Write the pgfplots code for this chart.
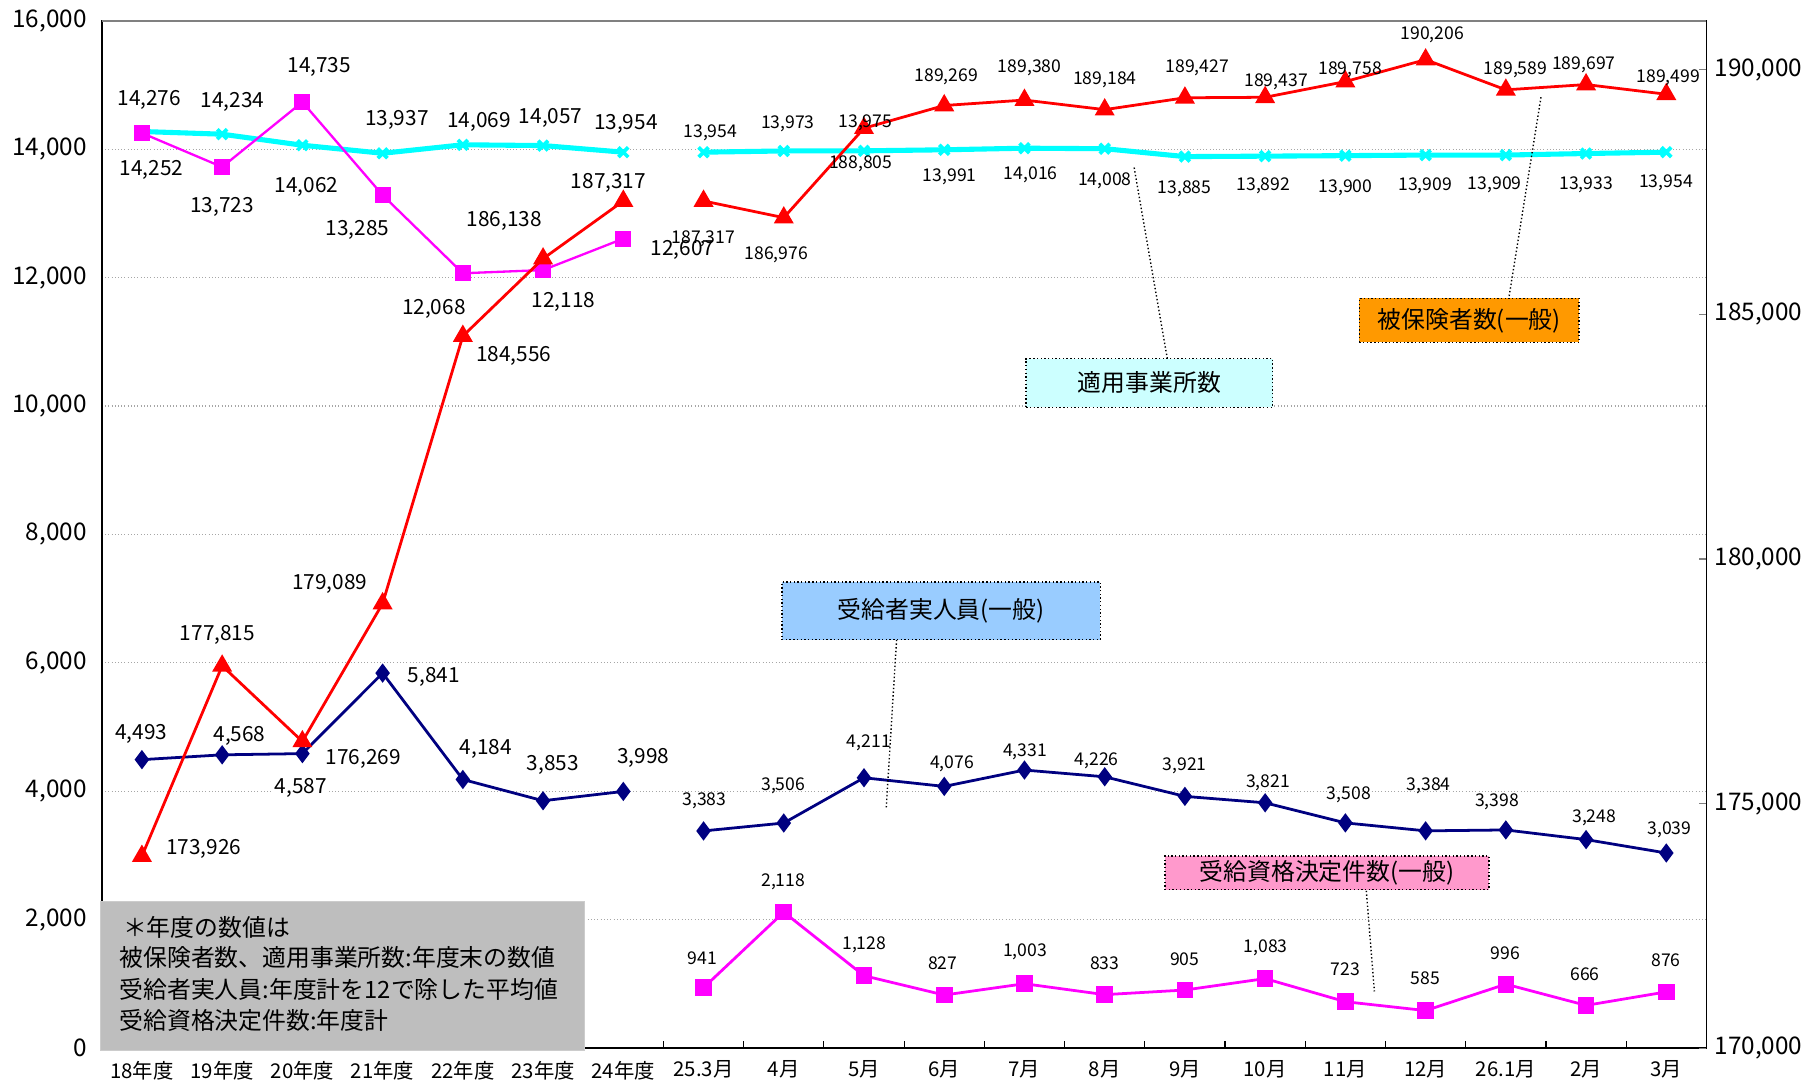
\documentclass[border=0pt]{standalone}
\usepackage{fontspec}
\setmainfont{Noto Sans CJK JP}
\usepackage{pgfplots}
\pgfplotsset{compat=1.18}
\definecolor{cyL}{HTML}{00FFFF}
\definecolor{mgL}{HTML}{FF00FF}
\definecolor{nvL}{HTML}{000080}
\definecolor{rdL}{HTML}{FF0000}
\definecolor{orB}{HTML}{FF9900}
\definecolor{cyB}{HTML}{CCFFFF}
\definecolor{blB}{HTML}{99CCFF}
\definecolor{pkB}{HTML}{FF99CC}
\definecolor{grB}{HTML}{BEBEBE}
\newcommand\labA{\fontsize{9}{10}\selectfont}
\newcommand\labB{\fontsize{7.6}{9}\selectfont}
\newcommand\boxf{\fontsize{10.3}{12}\selectfont}
\begin{document}
\begin{tikzpicture}
\useasboundingbox (-44pt,-15pt) rectangle (740pt,453pt);
\begin{axis}[
  at={(0,0)}, anchor=south west,
  scale only axis, width=693.5pt, height=444pt,
  xmin=-0.5, xmax=19.5, ymin=0, ymax=16000,
  xtick={0,...,19},
  xticklabels={18年度,19年度,20年度,21年度,22年度,23年度,24年度,25.3月,4月,5月,6月,7月,8月,9月,10月,11月,12月,26.1月,2月,3月},
  minor xtick={0.5,1.5,...,18.5},
  xtick pos=bottom, tick align=inside,
  major x tick style={draw=none},
  minor tick length=3pt,
  minor x tick style={black, line width=0.5pt},
  x tick label style={font=\fontsize{8.8}{10}\selectfont, yshift=-2pt},
  ytick={0,2000,...,16000},
  ytick pos=left, major y tick style={draw=none},
  ymajorgrids, grid style={densely dotted, gray!70, line width=0.5pt},
  scaled y ticks=false,
  y tick label style={font=\fontsize{10.5}{12}\selectfont, xshift=-3pt},
  /pgf/number format/assume math mode=true,
  yticklabel style={/pgf/number format/fixed, /pgf/number format/1000 sep={,}},
  axis line style={black, line width=0.8pt},
]
% 適用事業所数
\addplot[cyL, line width=2.2pt, mark=x, mark size=3pt, mark options={solid, line width=1.6pt}]
  coordinates {(0,14276)(1,14234)(2,14062)(3,13937)(4,14069)(5,14057)(6,13954)};
\addplot[cyL, line width=2.2pt, mark=x, mark size=3pt, mark options={solid, line width=1.6pt}]
  coordinates {(7,13954)(8,13973)(9,13975)(10,13991)(11,14016)(12,14008)(13,13885)(14,13892)(15,13900)(16,13909)(17,13909)(18,13933)(19,13954)};
% 受給資格決定件数
\addplot[mgL, line width=1pt, mark=square*, mark size=3pt, mark options={solid, fill=mgL}]
  coordinates {(0,14252)(1,13723)(2,14735)(3,13285)(4,12068)(5,12118)(6,12607)};
\addplot[mgL, line width=1.2pt, mark=square*, mark size=3pt, mark options={solid, fill=mgL}]
  coordinates {(7,941)(8,2118)(9,1128)(10,827)(11,1003)(12,833)(13,905)(14,1083)(15,723)(16,585)(17,996)(18,666)(19,876)};
% 受給者実人員
\addplot[nvL, line width=1.2pt, mark=diamond*, mark size=3.2pt, mark options={solid, fill=nvL}]
  coordinates {(0,4493)(1,4568)(2,4587)(3,5841)(4,4184)(5,3853)(6,3998)};
\addplot[nvL, line width=1.2pt, mark=diamond*, mark size=3.2pt, mark options={solid, fill=nvL}]
  coordinates {(7,3383)(8,3506)(9,4211)(10,4076)(11,4331)(12,4226)(13,3921)(14,3821)(15,3508)(16,3384)(17,3398)(18,3248)(19,3039)};
\end{axis}
\begin{axis}[
  at={(0,0)}, anchor=south west,
  scale only axis, width=693.5pt, height=444pt,
  xmin=-0.5, xmax=19.5, ymin=170000, ymax=191000,
  axis x line=none, axis y line*=right,
  ytick={170000,175000,...,190000},
  tick align=inside, major tick length=3pt,
  major y tick style={gray, line width=0.5pt},
  scaled y ticks=false,
  y tick label style={font=\fontsize{10.5}{12}\selectfont},
  /pgf/number format/assume math mode=true,
  yticklabel style={/pgf/number format/fixed, /pgf/number format/1000 sep={,}},
  axis line style={black, line width=0.8pt},
]
% 被保険者数
\addplot[rdL, line width=1.2pt, mark=triangle*, mark size=3.8pt, mark options={solid, fill=rdL}]
  coordinates {(0,173926)(1,177815)(2,176269)(3,179089)(4,184556)(5,186138)(6,187317)};
\addplot[rdL, line width=1.2pt, mark=triangle*, mark size=3.8pt, mark options={solid, fill=rdL}]
  coordinates {(7,187317)(8,186976)(9,188805)(10,189269)(11,189380)(12,189184)(13,189427)(14,189437)(15,189758)(16,190206)(17,189589)(18,189697)(19,189499)};
\end{axis}
\draw[gray, line width=1pt] (0,444pt) -- (693.5pt,444pt);
\begin{scope}[x=0.5pt, y=-0.5pt, shift={(-44pt,453pt)}]
  % annual labels
  \foreach \px/\py/\t in {129/86/{14,276},201/88/{14,234},265/162/{14,062},343/104/{13,937},414/105/{14,069},476/102/{14,057},541/107/{13,954},
    131/147/{14,252},192/179/{13,723},276/58/{14,735},309/199/{13,285},375/267/{12,068},487/261/{12,118},590/216/{12,607},
    176/734/{173,926},188/549/{177,815},314/656/{176,269},285/505/{179,089},444/308/{184,556},436/191/{186,138},526/158/{187,317},
    122/634/{4,493},207/636/{4,568},375/585/{5,841},420/647/{4,184},478/661/{3,853},556/655/{3,998}}
    {\node[font=\labA, inner sep=0.5pt] at (\px,\py) {\t};}
  \node[font=\labA, fill=white, inner sep=1pt] at (260,681) {4,587};
  % monthly labels
  \foreach \px/\py/\t in {608/206/{187,317},671/220/{186,976},744/142/{188,805},818/66/{189,269},890/59/{189,380},955/69/{189,184},1035/59/{189,427},1103/71/{189,437},1167/60/{189,758},1238/30/{190,206},1310/60/{189,589},1369/56/{189,697},1442/67/{189,499},
    614/115/{13,954},681/107/{13,973},748/106/{13,975},821/153/{13,991},891/151/{14,016},955/156/{14,008},1024/163/{13,885},1092/161/{13,892},1163/162/{13,900},1232/161/{13,909},1292/160/{13,909},1371/160/{13,933},1440/158/{13,954},
    609/692/{3,383},677/679/{3,506},751/642/{4,211},823/660/{4,076},886/650/{4,331},948/658/{4,226},1024/662/{3,921},1096/677/{3,821},1166/687/{3,508},1235/679/{3,384},1294/693/{3,398},1378/707/{3,248},1443/717/{3,039},
    607/828/{941},677/762/{2,118},747/817/{1,128},815/833/{827},886/823/{1,003},955/833/{833},1024/829/{905},1094/819/{1,083},1163/838/{723},1232/846/{585},1301/824/{996},1370/842/{666},1440/830/{876}}
    {\node[font=\labB, inner sep=0.5pt] at (\px,\py) {\t};}
  % leader lines
  \draw[densely dotted, line width=0.6pt] (1304,259) -- (1332,84);
  \draw[densely dotted, line width=0.6pt] (1009,310) -- (980,143);
  \draw[densely dotted, line width=0.6pt] (775,553) -- (766,699);
  \draw[densely dotted, line width=0.6pt] (1181,770) -- (1188,857);
  % callouts
  \node[fill=orB, draw=black, densely dotted, line width=0.6pt, minimum width=95pt, minimum height=19pt, inner sep=0pt, font=\boxf] at (1270,277) {被保険者数(一般)};
  \node[fill=cyB, draw=black, densely dotted, line width=0.6pt, minimum width=106.5pt, minimum height=21pt, inner sep=0pt, font=\boxf] at (993.5,331) {適用事業所数};
  \node[fill=blB, draw=black, densely dotted, line width=0.6pt, minimum width=137.5pt, minimum height=25pt, inner sep=0pt, font=\boxf] at (813.5,528) {受給者実人員(一般)};
  \node[fill=pkB, draw=black, densely dotted, line width=0.6pt, minimum width=140pt, minimum height=14.5pt, inner sep=0pt, font=\boxf] at (1147,754.5) {受給資格決定件数(一般)};
  % note box
  \fill[grB] (87,779) rectangle (505,908);
  \draw[gray!40, line width=0.6pt] (87,779) rectangle (505,908);
  \node[anchor=west, font=\boxf, inner sep=0pt] at (106,802) {＊年度の数値は};
  \node[anchor=west, font=\boxf, inner sep=0pt] at (103,828) {被保険者数、適用事業所数:年度末の数値};
  \node[anchor=west, font=\boxf, inner sep=0pt] at (103,855) {受給者実人員:年度計を12で除した平均値};
  \node[anchor=west, font=\boxf, inner sep=0pt] at (103,882) {受給資格決定件数:年度計};
\end{scope}
\end{tikzpicture}
\end{document}
